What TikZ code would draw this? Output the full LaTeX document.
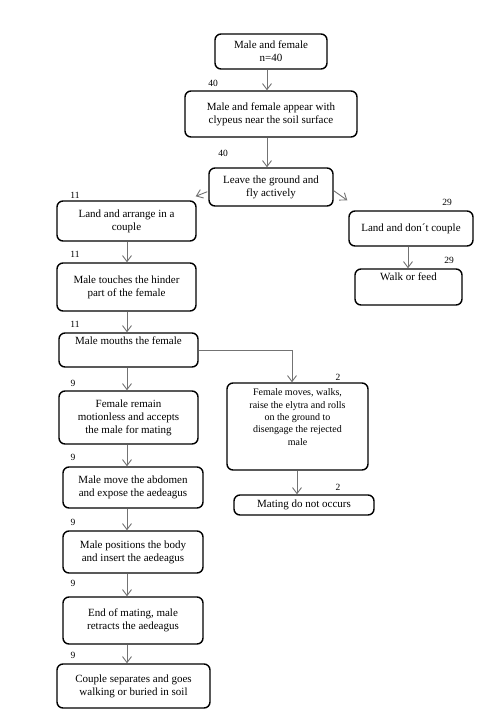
\documentclass[tikz,border=0pt]{standalone}
\usepackage{fontspec}
\setmainfont{Liberation Serif}
\usetikzlibrary{arrows.meta}
\definecolor{arrgray}{RGB}{115,115,115}
\tikzset{
  box/.style={draw=black, line width=1.4pt, rounded corners=6pt, align=center,
    inner sep=1pt, font=\fontsize{11}{13}\selectfont},
  arr/.style={draw=arrgray, line width=0.9pt,
    -{Straight Barb[length=6pt,width=9pt,line width=0.9pt]}},
  num/.style={font=\fontsize{9.5}{11}\selectfont, inner sep=0pt}
}
\begin{document}
\begin{tikzpicture}[x=1pt,y=-1pt]
\useasboundingbox (0,0) rectangle (492,721);
% boxes
\node[box, minimum width=112pt, minimum height=35pt] (B1) at (271,51.5) {Male and female\\n=40};
\node[box, minimum width=172pt, minimum height=46pt] (B2) at (271,114) {Male and female appear with\\clypeus near the soil surface};
\node[box, minimum width=124pt, minimum height=38pt] (B3) at (271,187) {Leave the ground and\\fly actively};
\node[box, minimum width=139pt, minimum height=40pt] (L1) at (126.5,221) {Land and arrange in a\\couple};
\node[box, minimum width=139pt, minimum height=48pt] (L2) at (126.5,287) {Male touches the hinder\\part of the female};
\node[box, minimum width=139pt, minimum height=34pt] (L3) at (128.5,350) {Male mouths the female\\[6pt]};
\node[box, minimum width=139pt, minimum height=53pt] (L4) at (128.5,417.5) {Female remain\\motionless and accepts\\the male for mating};
\node[box, minimum width=140pt, minimum height=41pt] (L5) at (133,487.5) {Male move the abdomen\\and expose the aedeagus};
\node[box, minimum width=140pt, minimum height=42pt] (L6) at (133,552) {Male positions the body\\and insert the aedeagus};
\node[box, minimum width=140pt, minimum height=47pt] (L7) at (133,620.5) {End of mating, male\\retracts the aedeagus};
\node[box, minimum width=153pt, minimum height=44pt] (L8) at (133.5,686) {Couple separates and goes\\walking or buried in soil};
\node[box, minimum width=124pt, minimum height=35pt] (R1) at (411,228.5) {Land and don´t couple};
\node[box, minimum width=107pt, minimum height=36pt] (R2) at (408.5,287) {Walk or feed\\[8pt]};
\node[box, minimum width=141pt, minimum height=87pt] (F) at (297.5,426.5) {};
\node[align=center, font=\fontsize{10}{12.3}\selectfont, inner sep=0pt] (Ft) at (297.5,417) {Female moves, walks,\\raise the elytra and rolls\\on the ground to\\disengage the rejected\\male};
\node[box, minimum width=140pt, minimum height=20pt] (M) at (304,505) {Mating do not occurs};
% column coordinates
\coordinate (cA) at (267,0);
\coordinate (cL) at (127,0);
\coordinate (cR) at (408,0);
\coordinate (cF) at (292,0);
\coordinate (cM) at (297,0);
% connectors
\draw[arr] (B1.south -| cA) -- (B2.north -| cA);
\draw[arr] (B2.south -| cA) -- (B3.north -| cA);
\draw[arr] ([shift={(-1,-15)}]B3.south west) -- ([shift={(-1,-4)}]L1.north east);
\draw[arr] ([shift={(0,-16)}]B3.south east) -- ([shift={(-1,-10)}]R1.north west);
\draw[arr] (R1.south -| cR) -- (R2.north -| cR);
\draw[arr] (L1.south -| cL) -- (L2.north -| cL);
\draw[arr] (L2.south -| cL) -- (L3.north -| cL);
\draw[arr] (L3.south -| cL) -- (L4.north -| cL);
\draw[arr] (L4.south -| cL) -- (L5.north -| cL);
\draw[arr] (L5.south -| cL) -- (L6.north -| cL);
\draw[arr] (L6.south -| cL) -- (L7.north -| cL);
\draw[arr] (L7.south -| cL) -- (L8.north -| cL);
\draw[arr] (L3.east) -| (F.north -| cF);
\draw[arr] (F.south -| cM) -- (M.north -| cM);
% numbers
\node[num] (n1) at (213,83) {40};
\node[num] (n2) at (223,153) {40};
\node[num] (n3) at (75,195) {11};
\node[num] (n4) at (75,254) {11};
\node[num] (n5) at (75,324) {11};
\node[num] (n6) at (73,383) {9};
\node[num] (n7) at (73,457) {9};
\node[num] (n8) at (73,522) {9};
\node[num] (n9) at (73,583) {9};
\node[num] (n10) at (73,655) {9};
\node[num] (n11) at (447,202) {29};
\node[num] (n12) at (449,260) {29};
\node[num] (n13) at (338,377) {2};
\node[num] (n14) at (338,487) {2};
\end{tikzpicture}
\end{document}
